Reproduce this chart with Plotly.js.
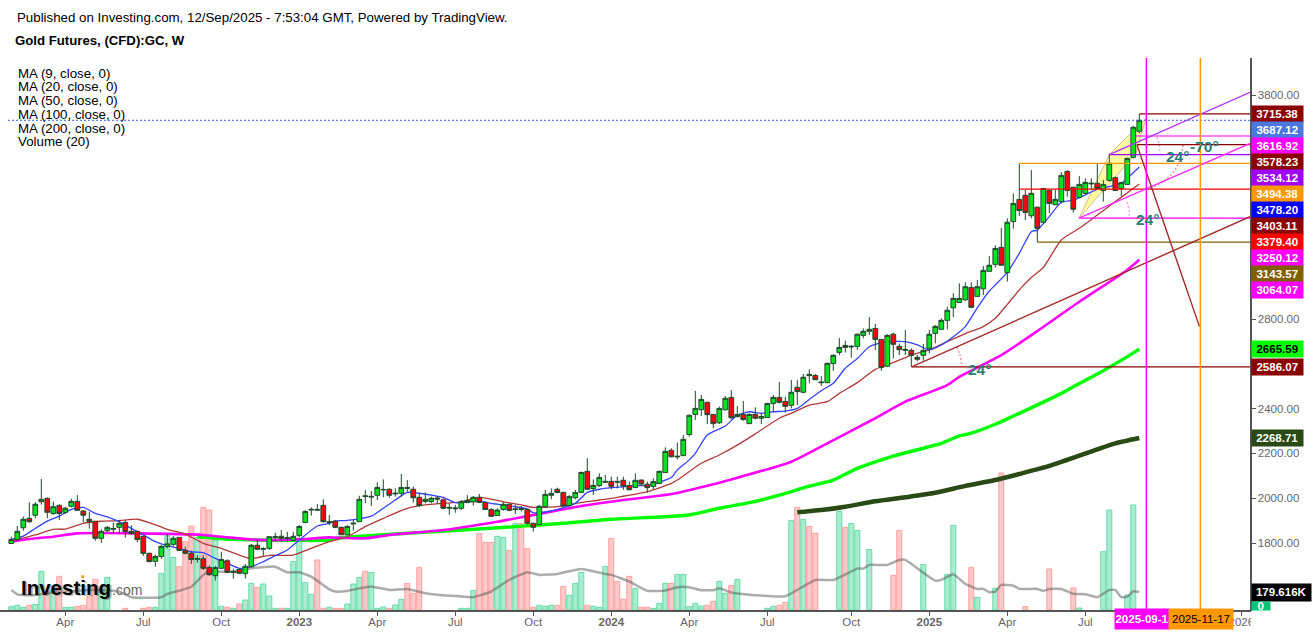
<!DOCTYPE html>
<html><head><meta charset="utf-8">
<script src="https://cdn.plot.ly/plotly-3.0.1.min.js"></script>
<style>html,body{margin:0;padding:0;background:#fff}#c{width:1316px;height:634px}</style>
</head><body><div id="c"></div>
<script>
const firstWeek = Date.UTC(2022,0,31);
const opens = [1798,1816,1868,1910,1924,1984,1999,1932,1968,1937,
1964,1986,1943,1906,1897,1821,1855,1865,1870,1892,
1852,1852,1830,1754,1718,1740,1784,1794,1825,1767,
1754,1727,1730,1691,1654,1687,1721,1669,1682,1663,
1694,1790,1772,1776,1825,1830,1821,1812,1833,1892,
1947,1950,1968,1892,1898,1870,1837,1885,1895,2011,
2005,2013,2037,2040,2019,2022,2048,2040,2004,1985,
1985,2001,1993,1959,1953,1955,1981,1984,2004,1981,
1950,1923,1950,1973,1949,1953,1950,1888,1882,1962,
2013,2040,2026,1967,2002,2026,2120,2043,2056,2071,
2075,2075,2080,2057,2048,2081,2062,2053,2066,2115,
2214,2184,2190,2284,2374,2395,2428,2374,2337,2395,
2450,2364,2374,2333,2374,2357,2360,2423,2450,2432,
2415,2495,2473,2553,2548,2519,2516,2601,2651,2682,
2675,2678,2727,2745,2758,2709,2589,2732,2678,2660,
2660,2629,2638,2669,2736,2754,2794,2850,2874,2886,
2941,2901,2935,3013,3044,3120,3007,3235,3334,3352,
3261,3299,3232,3374,3310,3324,3459,3388,3343,3361,
3403,3406,3374,3419,3431,3383,3401,3522,3638];
const closes = [1816,1852,1906,1895,1973,1995,1937,1962,1932,1955,
1986,1946,1924,1897,1821,1852,1870,1862,1888,1851,
1843,1816,1754,1717,1740,1785,1796,1821,1767,1754,
1726,1730,1687,1659,1690,1726,1669,1672,1665,1696,
1790,1772,1775,1828,1828,1821,1824,1830,1874,1941,
1950,1947,1895,1895,1870,1837,1874,1888,1995,2008,
2008,2048,2039,2013,2022,2048,2044,2002,1967,1995,
2000,1996,1955,1956,1956,1984,1990,2004,1981,1950,
1919,1947,1973,1946,1952,1950,1888,1870,1964,2017,
2022,2026,1965,2007,2026,2115,2040,2057,2093,2075,
2053,2072,2054,2038,2080,2063,2047,2074,2120,2209,
2185,2187,2263,2370,2401,2441,2373,2333,2401,2446,
2359,2374,2351,2374,2357,2365,2423,2450,2428,2410,
2473,2476,2540,2547,2529,2516,2602,2638,2673,2673,
2678,2732,2745,2754,2709,2583,2727,2687,2663,2664,
2638,2620,2660,2732,2767,2794,2839,2892,2892,2944,
2852,2944,3017,3040,3115,3040,3232,3316,3284,3276,
3361,3205,3383,3316,3334,3441,3374,3290,3401,3410,
3406,3383,3401,3495,3374,3409,3517,3656,3687.12];
const highs = [1828,1876,1918,1982,1982,2086,2004,1985,1973,1962,
1998,2014,1947,1940,1897,1861,1876,1891,1903,1900,
1880,1855,1830,1757,1748,1791,1840,1831,1825,1784,
1766,1746,1746,1700,1697,1761,1727,1685,1687,1706,
1796,1813,1781,1831,1846,1858,1850,1850,1880,1947,
1959,1974,1995,1925,1903,1873,1879,1903,2011,2037,
2032,2071,2084,2044,2044,2108,2081,2052,2022,2026,
2007,2010,2000,1977,1970,1992,2014,2010,2019,1984,
1955,1955,1983,1977,1970,1965,1950,1891,1970,2037,
2044,2047,2029,2014,2037,2119,2178,2084,2111,2104,
2096,2096,2096,2074,2111,2084,2074,2089,2123,2227,
2223,2248,2282,2374,2479,2461,2431,2374,2409,2456,
2483,2412,2434,2379,2406,2379,2426,2461,2519,2453,
2528,2528,2555,2575,2555,2545,2606,2642,2715,2703,
2684,2736,2758,2809,2778,2709,2732,2740,2691,2751,
2669,2639,2688,2751,2773,2803,2855,2915,2959,2964,
2964,2974,3037,3081,3129,3206,3249,3361,3494.38,3376,
3465,3302,3383,3376,3376,3456,3465,3391,3438,3428,
3428,3492,3421,3537,3435,3413,3520,3662,3715.38];
const lows = [1795,1810,1855,1891,1910,1971,1910,1925,1903,1929,
1959,1944,1892,1864,1810,1801,1849,1843,1843,1824,
1837,1803,1742,1714,1694,1729,1776,1784,1766,1749,
1706,1712,1679,1653,1632,1684,1665,1641,1662,1641,
1690,1769,1743,1769,1806,1806,1806,1806,1825,1888,
1922,1944,1892,1880,1866,1836,1834,1855,1894,1977,
1965,1992,2004,2002,2007,2007,2029,1980,1962,1977,
1977,1974,1950,1926,1935,1947,1977,1967,1980,1947,
1916,1920,1944,1941,1929,1940,1882,1851,1879,1958,
1995,2022,1962,1962,1995,2025,2037,2014,2051,2069,
2040,2044,2037,2034,2044,2056,2025,2041,2063,2114,
2182,2173,2188,2275,2349,2367,2331,2312,2331,2391,
2354,2361,2346,2331,2352,2331,2358,2386,2423,2383,
2401,2416,2468,2513,2528,2501,2513,2569,2639,2650,
2627,2662,2714,2729,2662,2569,2587,2624,2639,2639,
2586.07,2612,2614,2647,2691,2751,2754,2808,2873,2880,
2851,2900,2907,3011,3029,3038,2967,3203,3260,3242,
3249,3143.57,3227,3272,3309,3316,3346,3275,3339,3358,
3376,3376,3324,3413,3371,3349,3398,3517,3629];
const volumes = [33,47,27,47,57,386,183,200,336,27,
27,37,47,140,306,200,326,null,null,17,
null,null,17,27,27,366,766,526,433,683,
839,726,1026,1000,700,37,27,17,60,100,
266,226,260,140,17,17,17,486,700,276,
157,500,17,27,17,17,60,260,326,386,
376,17,30,17,50,107,266,167,426,null,
null,null,null,null,null,17,17,196,766,676,
676,736,726,596,866,866,616,27,47,37,
47,47,236,147,266,376,47,37,27,436,
716,286,107,336,216,27,27,17,67,266,
266,356,356,33,67,40,47,87,286,167,
246,306,null,null,null,null,17,37,47,77,
896,1026,906,836,766,null,null,null,986,826,
866,796,null,606,null,null,null,346,796,null,
null,null,456,null,null,null,356,846,null,null,
426,127,null,null,216,1370,null,null,null,33,
null,null,null,410,null,null,null,220,20,null,
null,null,583,1000,null,null,150,1050,null];

const volMaWeeks = [0,1,2,4,6,9,13,15,18,20,25,26,28,30,32,33,35,37,40,43,44,46,48,50,53,54,56,59,60,63,66,69,72,74,77,80,83,86,88,91,95,99,100,103,106,109,111,113,115,117,118,120,124,129,134,137,141,142,143,146,148,149,152,154,155,157,159,161,162,163,164,165,167,168,171,172,173,175,177,179,181,183,184,185,186,187,188];
const volMa = [200,157,150,150,167,183,200,200,183,127,127,160,193,233,350,390,383,383,417,433,433,377,377,333,207,185,191,228,235,201,211,168,148,141,128,185,301,378,351,361,411,361,351,285,191,195,228,228,198,198,218,175,148,138,300,300,414,414,451,451,501,501,374,294,301,358,261,211,211,178,184,251,244,211,211,191,211,211,161,158,128,201,201,128,134,188,179.616];

const ma9Weeks = [0,2,4,6,8,10,12,14,16,18,20,22,24,26,28,30,32,34,36,38,40,42,44,46,48,51,53,54,56,60,62,64,66,68,70,72,74,76,78,80,82,84,86,87,88,90,92,94,96,98,100,102,104,106,108,110,111,113,114,116,119,121,123,125,127,129,131,133,135,137,139,141,143,145,146,149,151,153,155,157,159,161,163,164,166,168,170,171,173,175,177,179,181,183,185,186,188];
const ma9 = [1816,1831,1865,1898,1920,1950,1959,1932,1917,1895,1865,1836,1806,1788,1776,1761,1757,1731,1709,1687,1694,1717,1743,1769,1813,1876,1888,1898,1901,1920,1955,1992,2026,2022,2014,2004,1980,1983,1987,1977,1970,1962,1952,1935,1935,1943,1958,1977,2026,2040,2047,2051,2056,2057,2071,2092,2126,2171,2200,2282,2322,2371,2386,2379,2386,2389,2401,2441,2480,2513,2580,2624,2676,2694,2699,2699,2684,2662,2684,2721,2766,2850,2925,2952,3008,3093,3190,3197,3257,3321,3331,3354,3380,3391,3406,3428,3478.20];
const ma20Weeks = [0,4,7,9,12,15,18,21,23,26,29,32,35,38,40,43,47,49,53,54,56,59,62,66,69,72,75,78,82,85,87,91,94,98,101,106,110,111,115,118,121,124,128,130,133,136,138,141,144,147,150,153,156,159,162,164,166,168,170,172,175,178,181,184,188];
const ma20 = [1809,1836,1861,1862,1888,1897,1900,1906,1891,1861,1840,1798,1776,1746,1731,1745,1746,1766,1806,1813,1828,1873,1910,1955,1970,1977,1984,2004,1984,1970,1959,1962,1977,1992,2004,2029,2066,2081,2156,2193,2237,2287,2357,2379,2416,2431,2468,2516,2575,2605,2639,2662,2699,2735,2766,2803,2865,2930,2985,3030,3153,3205,3264,3324,3403.11];
const ma50Weeks = [0,4,7,11,21,32,36,42,48,53,54,59,63,72,81,88,95,102,108,111,115,120,130,136,144,149,156,158,165,171,178,186,188];
const ma50 = [1806,1821,1828,1843,1843,1836,1825,1813,1816,1825,1824,1821,1836,1858,1895,1930,1965,1992,2011,2023,2049,2084,2163,2245,2357,2431,2505,2542,2639,2746,2877,3019,3064.07];
const ma100Weeks = [31,37,47,53,54,64,73,84,92,100,108,113,118,123,128,133,137,141,147,155,158,160,164,166,175,177,181,186,188];
const ma100 = [1828,1816,1812,1813,1821,1840,1855,1873,1888,1906,1916,1925,1955,1980,2014,2054,2081,2133,2188,2245,2278,2290,2330,2354,2468,2498,2554,2632,2665.59];
const ma200Weeks = [131,135,139,144,149,154,159,164,168,173,181,184,188];
const ma200 = [1937,1947,1962,1986,2004,2024,2055,2081,2108,2144,2218,2245,2268.71];

const tagPrices = [3715.38,3687.12,3616.92,3578.23,3534.12,3494.38,3478.20,3403.11,3379.40,3250.12,3143.57,3064.07,2665.59,2586.07,2268.71];
const tagRows = [114,130,146,162,178,194,210,226,242,258,274,290,349,367,438];
const tagColors = ['#8b0000','#4a78e0','#ff00ff','#8b0000','#a000ff','#ff9800','#0000ff','#8b0000','#ff0000','#ff00ff','#806000','#ff00ff','#00ff00','#8b0000','#2a4a15'];
const tagInk = ['#fff','#fff','#fff','#fff','#fff','#fff','#fff','#fff','#fff','#fff','#fff','#fff','#000','#fff','#fff'];

const levelPrices = [3715.38,3616.92,3578.23,3534.12,3494.38,3379.40,3250.12,3143.57,2586.07];
const levelStart = [188,187.3,187.6,183,168,168,178,171,150.05];
const levelColors = ['#8b0000','#ff00ff','#8b0000','#a000ff','#ff9800','#ff0000','#ff00ff','#806000','#8b0000'];
const rayWeek = [[150.05,206.45],[177.95,206.45],[183,206.45],[187.6,198.03]];
const rayPrice = [[2586.07,3257],[3250.12,3584],[3534.12,3812],[3578.23,2766]];
const rayColors = ['#a52a2a','#ff30ff','#b433ff','#a52a2a'];
const channelWeeks = [177.95,183,189.1,187.4,177.95];
const channelPrices = [3250,3534,3695,3537,3250];
const arcs = [
 {w:[190.95,191.3,191.45],p:[3612,3577,3541],c:'#f0a0f0'},
 {w:[195.3,194.8,193.95,192.3,189.8],p:[3577,3519,3465,3420,3380],c:'#dc9a9a'},
 {w:[185.95,186.3,186.3],p:[3322,3287,3255],c:'#f0a0f0'},
 {w:[157.6,158.1,158.45],p:[2675,2639,2590],c:'#dc9a9a'}];
const tickDates = ['2022-04-04','2022-07-04','2022-10-03','2023-01-02','2023-04-03','2023-07-03','2023-10-02','2024-01-01','2024-04-01','2024-07-01','2024-10-07','2025-01-06','2025-04-07','2025-07-07','2026-01-05'];
const tickNames = ['Apr','Jul','Oct','<b>2023</b>','Apr','Jul','Oct','<b>2024</b>','Apr','Jul','Oct','<b>2025</b>','Apr','Jul','2026'];
const priceTicks = [1600,1800,2000,2200,2400,2800,3800];
const legendLines = ['MA (9, close, 0)','MA (20, close, 0)','MA (50, close, 0)','MA (100, close, 0)','MA (200, close, 0)','Volume (20)'];
const legendRows = [73,86.5,100,114,128,141.5];

const wkDate = w => new Date(firstWeek + w*7*864e5).toISOString().slice(0,19).replace('T',' ');
const dates = opens.map((_,i)=>wkDate(i).slice(0,10));
const F = 'Liberation Sans, Arial, sans-serif';
const W = 1250, H = 552, T = 58;
const px = x => x/W, py = y => 1-(y-T)/H;
const priceRange = [1800-(610-543)/0.224,3800+(95-T)/0.224];
const maLine = (weeks,vals,color,width) => ({type:'scatter',mode:'lines',xaxis:'x',yaxis:'y2',x:weeks.map(wkDate),y:vals,
  line:{color,width,shape:'spline',smoothing:0.6},hoverinfo:'skip',showlegend:false});

const data = [
 {type:'bar',xaxis:'x',yaxis:'y',x:dates,y:volumes,width:5*7*864e5/6,
  marker:{color:opens.map((o,i)=>closes[i]>=o?'#a9edd0':'#ffc9c9'),line:{color:opens.map((o,i)=>closes[i]>=o?'#66dba8':'#ff9f9f'),width:1}},hoverinfo:'skip',showlegend:false},
 {type:'scatter',mode:'lines',xaxis:'x',yaxis:'y',x:volMaWeeks.map(wkDate),y:volMa,line:{color:'rgba(90,90,90,0.5)',width:2.5,shape:'spline',smoothing:0.4},hoverinfo:'skip',showlegend:false},
 {type:'scatter',mode:'lines',xaxis:'x',yaxis:'y2',x:channelWeeks.map(wkDate),y:channelPrices,fill:'toself',fillcolor:'#fffba0',line:{color:'rgba(200,170,130,0.8)',width:1},hoverinfo:'skip',showlegend:false},
 maLine(ma200Weeks,ma200,'#2a4a15',4.5),
 maLine(ma100Weeks,ma100,'#00ff00',3.4),
 maLine(ma50Weeks,ma50,'#ff00ff',2.6),
 maLine(ma20Weeks,ma20,'#b03a3a',1.3),
 maLine(ma9Weeks,ma9,'#3344ff',1.3),
 ...arcs.map(a=>({type:'scatter',mode:'lines',xaxis:'x',yaxis:'y2',x:a.w.map(wkDate),y:a.p,line:{color:a.c,width:1.5,dash:'2px,2px',shape:'spline'},hoverinfo:'skip',showlegend:false})),
 {type:'candlestick',xaxis:'x',yaxis:'y3',x:dates,open:opens,high:highs,low:lows,close:closes,whiskerwidth:0,hoverinfo:'skip',showlegend:false,
  increasing:{line:{color:'#1d4a2b',width:1},fillcolor:'#08e21e'},decreasing:{line:{color:'#1d4a2b',width:1},fillcolor:'#ee0b0b'}}
];

const shapes = [];
levelPrices.forEach((p,i)=>shapes.push({type:'line',xref:'x',yref:'y2',x0:wkDate(levelStart[i]),x1:wkDate(206.45),y0:p,y1:p,line:{color:levelColors[i],width:1.2}}));
rayWeek.forEach((w,i)=>shapes.push({type:'line',xref:'x',yref:'y2',x0:wkDate(w[0]),x1:wkDate(w[1]),y0:rayPrice[i][0],y1:rayPrice[i][1],line:{color:rayColors[i],width:1.4}}));
shapes.push({type:'line',xref:'paper',yref:'y2',x0:px(8),x1:1,y0:3687.12,y1:3687.12,line:{color:'#3c63d8',width:1,dash:'2px,2px'}});
shapes.push({type:'line',xref:'x',yref:'paper',x0:'2025-09-16 06:00',x1:'2025-09-16 06:00',y0:0,y1:1,line:{color:'#ff00ff',width:1.5}});
shapes.push({type:'line',xref:'x',yref:'paper',x0:'2025-11-18 06:00',x1:'2025-11-18 06:00',y0:0,y1:1,line:{color:'#ff9800',width:1.5}});
shapes.push({type:'rect',xref:'paper',yref:'paper',x0:px(1251),x1:px(1316),y0:py(611),y1:py(634),fillcolor:'#fff',line:{width:0}});
shapes.push({type:'circle',xref:'paper',yref:'paper',x0:px(81),x1:px(84.5),y0:py(578.5),y1:py(575),fillcolor:'#f5a623',line:{width:0}});

const note = (x,y,text,o={}) => Object.assign({xref:'paper',yref:'paper',x:px(x),y:py(y),xanchor:'left',yanchor:'middle',text,showarrow:false,borderpad:0,
   font:Object.assign({family:F,size:14,color:'#000'},o.font||{})},o.rest||{});
const tag = (x,y,wid,hei,text,bg,ink) => note(x,y,text,{font:{size:11.5,color:ink},rest:{width:wid,height:hei,bgcolor:bg,align:'center',valign:'middle'}});

const annotations = [
 note(15.5,17,'Published on Investing.com, 12/Sep/2025 - 7:53:04 GMT, Powered by TradingView.',{font:{size:13.3}}),
 note(13.5,40.5,'<b>Gold Futures, (CFD):GC, W</b>',{font:{size:13.2}}),
 ...legendLines.map((t,i)=>note(16.5,legendRows[i],t,{font:{size:13.3}})),
 ...tagPrices.map((p,i)=>tag(1250.5,tagRows[i],50.5,16,'<b>'+p.toFixed(2)+'</b>',tagColors[i],tagInk[i])),
 tag(1250.5,592.3,58.5,16.5,'<b>179.616K</b>','#000','#fff'),
 tag(1250.5,606,17.5,8,'<b>0</b>','#00c777','#fff'),
 tag(1114,619.3,54,19.5,'<b>2025-09-1</b>','#ff00ff','#fff'),
 tag(1168,619.3,64,19.5,'2025-11-17','#ff9800','#000'),
 note(21.5,588.5,'<b>Investing</b>',{font:{size:20.5,color:'rgba(60,60,60,0.35)'}}),
 note(20,587,'<b>Investing</b>',{font:{size:20.5,color:'#000'}}),
 note(110.5,590,'.com',{font:{size:14,color:'#666'}}),
 ...[[1164.5,156.5,'24°'],[1135,220,'24°'],[967,369,'24°'],[1189,146.5,'-70°']].map(a=>note(a[0],a[1],'<b>'+a[2]+'</b>',{font:{size:15.5,color:'#2a7d78'}}))
];

const layout = {
 width:1316,height:634,autosize:false,paper_bgcolor:'#fff',plot_bgcolor:'#fff',showlegend:false,hovermode:false,
 margin:{l:0,r:66,t:T,b:24,pad:0},boxgap:0.1,boxgroupgap:0.12,barmode:'overlay',
 xaxis:{type:'date',range:[wkDate(-1.883),wkDate(206.45)],rangeslider:{visible:false},tickmode:'array',tickvals:tickDates,ticktext:tickNames,showgrid:false,zeroline:false,
   ticks:'outside',ticklen:4,tickcolor:'#555',tickwidth:1,showline:true,linecolor:'#555',linewidth:1.5,tickfont:{family:F,size:11.5,color:'#666'},ticklabelstandoff:-3,fixedrange:true},
 yaxis:{visible:false,range:[0,5520],showgrid:false,zeroline:false,fixedrange:true},
 yaxis2:{overlaying:'y',side:'right',anchor:'x',range:priceRange,tickvals:priceTicks,tickformat:'.2f',showgrid:false,zeroline:false,
   ticks:'outside',ticklen:4,tickcolor:'#555',tickwidth:1,showline:true,linecolor:'#555',linewidth:1.5,tickfont:{family:F,size:11.5,color:'#666'},fixedrange:true},
 yaxis3:{overlaying:'y',side:'right',anchor:'x',range:priceRange,visible:false,showgrid:false,zeroline:false,fixedrange:true},
 shapes,annotations
};
Plotly.newPlot('c',data,layout,{displayModeBar:false,staticPlot:true});
</script></body></html>
